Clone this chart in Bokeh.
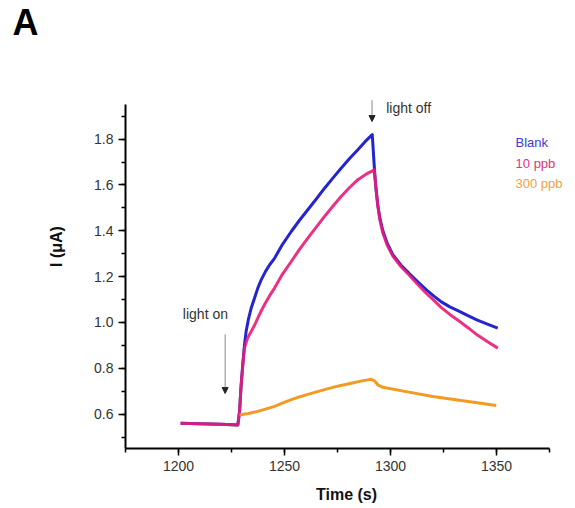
from bokeh.plotting import figure
from bokeh.models import Range1d, SingleIntervalTicker, PrintfTickFormatter, Label, Arrow, NormalHead
from bokeh.embed import file_html
from bokeh.resources import INLINE

# ---- data ----
blank_t = [1201, 1210, 1220, 1228, 1228.8, 1229.5, 1230.3, 1231.1, 1231.9, 1233, 1234.3, 1236, 1237.4,
           1239, 1241, 1243, 1245.3, 1249, 1253.2, 1257, 1261, 1265, 1268.9, 1272.8, 1276.7, 1280.6,
           1284.6, 1288, 1291.4, 1292.6, 1293.2, 1294, 1295, 1296.4, 1298.5, 1301.1, 1305, 1309,
           1313, 1316.8, 1320.5, 1324, 1328, 1332.5, 1337, 1341, 1346, 1350.6]
blank_i = [0.560, 0.558, 0.556, 0.553, 0.612, 0.72, 0.816, 0.90, 0.961, 1.015, 1.063, 1.11, 1.15,
           1.186, 1.222, 1.252, 1.28, 1.34, 1.397, 1.445, 1.492, 1.539, 1.586, 1.63, 1.673, 1.714,
           1.754, 1.789, 1.82, 1.645, 1.58, 1.514, 1.455, 1.40, 1.345, 1.296, 1.25, 1.212,
           1.176, 1.143, 1.115, 1.09, 1.068, 1.048, 1.028, 1.01, 0.992, 0.975]

ppb10_t = [1201, 1210, 1220, 1228, 1228.8, 1229.5, 1230.3, 1231.1, 1232.5, 1234.3, 1236, 1237.4, 1239,
           1241, 1243, 1245.3, 1249, 1253.2, 1257, 1261, 1265, 1268.9, 1272.8, 1276.7, 1280.6,
           1284.6, 1288.5, 1292.4, 1293, 1294, 1295, 1296.4, 1298.5, 1301.1, 1305, 1309, 1313,
           1316.8, 1320.5, 1324, 1328, 1332.5, 1337, 1341, 1346, 1350.6]
ppb10_i = [0.560, 0.558, 0.556, 0.553, 0.612, 0.72, 0.81, 0.888, 0.93, 0.961, 0.99, 1.019, 1.05,
           1.085, 1.117, 1.15, 1.21, 1.266, 1.318, 1.368, 1.416, 1.463, 1.507, 1.55, 1.588,
           1.623, 1.647, 1.666, 1.60, 1.51, 1.447, 1.39, 1.336, 1.29, 1.243, 1.205, 1.165,
           1.128, 1.096, 1.065, 1.035, 1.005, 0.974, 0.945, 0.915, 0.888]

ppb300_t = [1228.8, 1230, 1233, 1237.4, 1241, 1245.3, 1249, 1253.2, 1257, 1261, 1268.9, 1275, 1281.5,
            1286, 1290.9, 1292.5, 1294, 1296.4, 1308, 1320, 1335, 1349.9]
ppb300_i = [0.597, 0.598, 0.603, 0.612, 0.622, 0.634, 0.648, 0.663, 0.675, 0.686, 0.707, 0.722, 0.735,
            0.744, 0.752, 0.745, 0.728, 0.717, 0.697, 0.677, 0.657, 0.638]

series_names = ["Blank", "10 ppb", "300 ppb"]
series_colors = ["#2424d0", "#e81c78", "#f39a22"]
legend_colors = ["#3a3ad8", "#e8307c", "#f2a040"]

x_axis_span = (1175, 1375)
y_axis_span = (0.45, 1.95)

FONT = "Liberation Sans"

p = figure(width=567, height=508, x_range=Range1d(1175, 1383.5), y_range=Range1d(0.45, 2.213),
           output_backend="svg", toolbar_location=None,
           min_border_left=125, min_border_right=0, min_border_top=44, min_border_bottom=60)
p.outline_line_color = None
p.grid.visible = False
p.background_fill_color = "white"
p.border_fill_color = "white"

p.title.text = "A"
p.title.text_font = FONT
p.title.text_font_size = "36px"
p.title.text_font_style = "bold"
p.title.text_color = "black"
p.title.text_line_height = 0.85
p.title.align = "left"
p.title.vertical_align = "top"
p.title.offset = -113
p.title.standoff = 0

p.line(blank_t, blank_i, line_color=series_colors[0], line_width=3, line_join="round")
p.line(ppb10_t, ppb10_i, line_color=series_colors[1], line_width=3, line_alpha=0.9, line_join="round")
p.line(ppb300_t, ppb300_i, line_color=series_colors[2], line_width=3, line_join="round")

p.xaxis.ticker = SingleIntervalTicker(interval=50, num_minor_ticks=2)
p.yaxis.ticker = SingleIntervalTicker(interval=0.2, num_minor_ticks=2)
p.yaxis.formatter = PrintfTickFormatter(format="%.1f")
p.xaxis.bounds = x_axis_span
p.yaxis.bounds = y_axis_span

for ax in (p.xaxis, p.yaxis):
    ax.axis_line_width = 2
    ax.axis_line_color = "black"
    ax.major_tick_in = 0
    ax.major_tick_out = 7
    ax.minor_tick_in = 0
    ax.minor_tick_out = 4
    ax.major_tick_line_width = 1.5
    ax.minor_tick_line_width = 1.5
    ax.major_label_text_font = FONT
    ax.major_label_text_font_size = "14px"
    ax.major_label_text_color = "#333333"
    ax.major_label_standoff = 5
    ax.axis_label_text_font = FONT
    ax.axis_label_text_font_size = "16px"
    ax.axis_label_text_font_style = "bold"
    ax.axis_label_text_color = "#111111"

p.xaxis.axis_label = "Time (s)"
p.yaxis.axis_label = "I (\u03bcA)"
p.xaxis.axis_label_standoff = 12
p.yaxis.axis_label_standoff = 26

# legend as coloured text
legend_y = [1.785, 1.695, 1.607]
for name, col, yy in zip(series_names, legend_colors, legend_y):
    p.add_layout(Label(x=1359, y=yy, text=name, text_align="left", text_baseline="middle",
                       text_font=FONT, text_font_size="13px", text_color=col))

# annotations
p.add_layout(Arrow(end=NormalHead(size=6, fill_color="#222222", line_color="#222222"),
                   x_start=1222, y_start=0.948, x_end=1222, y_end=0.69,
                   line_color="#8a8a8a", line_width=1))
p.add_layout(Label(x=1212.7, y=1.035, text="light on", text_align="center", text_baseline="middle",
                   text_font=FONT, text_font_size="14px", text_color="#333333"))
p.add_layout(Arrow(end=NormalHead(size=6, fill_color="#222222", line_color="#222222"),
                   x_start=1291.3, y_start=1.97, x_end=1291.3, y_end=1.877,
                   line_color="#8a8a8a", line_width=1))
p.add_layout(Label(x=1298, y=1.935, text="light off", text_align="left", text_baseline="middle",
                   text_font=FONT, text_font_size="14px", text_color="#333333"))

open("out.html", "w").write(file_html(p, INLINE))
